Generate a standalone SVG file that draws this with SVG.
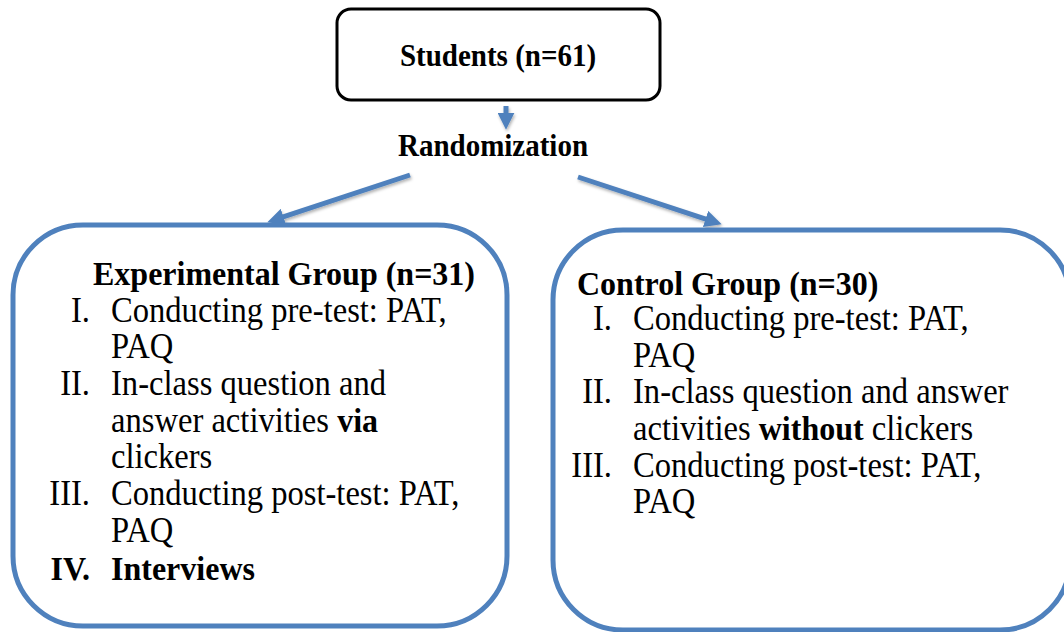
<svg xmlns="http://www.w3.org/2000/svg" width="1064" height="632" viewBox="0 0 1064 632" font-family="'Liberation Serif', serif">
<defs>
<style>
.t{font-family:'Liberation Serif',serif;font-size:32.6px;fill:#000}
.b{font-weight:bold;font-size:32px}
.e{text-anchor:end}
.m{text-anchor:middle}
.box{fill:#fff;stroke:#4F81BD;stroke-width:5}
.arr{stroke:#4F81BD;stroke-width:5;fill:none;marker-end:url(#ah)}
</style>
<marker id="ah" markerUnits="userSpaceOnUse" markerWidth="17" markerHeight="17" refX="4" refY="8" orient="auto" viewBox="0 0 16 16">
<path d="M0,0 L16,8 L0,16 z" fill="#4F81BD"/>
</marker>
<filter id="sh" x="-20%" y="-20%" width="140%" height="160%">
<feDropShadow dx="1" dy="2" stdDeviation="1.5" flood-color="#000" flood-opacity="0.3"/>
</filter>
</defs>
<g id="connectors" filter="url(#sh)">
<path class="arr" d="M506,106 L506,117"/>
<path class="arr" d="M410,175 L279.4,218.2"/>
<path class="arr" d="M578,177 L709.6,220.3"/>
</g>
<g id="students">
<rect x="337" y="9" width="323" height="91" rx="14" fill="#fff" stroke="#000" stroke-width="3"/>
<text class="t b m" style="font-size:29px" transform="translate(498,66) scale(1,1.08)">Students (n=61)</text>
</g>
<g id="randomization">
<text class="t b m" style="font-size:29px" transform="translate(493,156) scale(1,1.08)">Randomization</text>
</g>
<g id="experimental">
<rect class="box" x="13" y="225" width="494" height="401" rx="70"/>
<text class="t b" transform="translate(93,285) scale(1,1.08)">Experimental Group (n=31)</text>
<text class="t e" transform="translate(90,322) scale(1,1.08)">I.</text>
<text class="t" transform="translate(111,322) scale(1,1.08)">Conducting pre-test: PAT,</text>
<text class="t" transform="translate(111,358) scale(1,1.08)">PAQ</text>
<text class="t e" transform="translate(90,395) scale(1,1.08)">II.</text>
<text class="t" transform="translate(111,395) scale(1,1.08)">In-class question and</text>
<text class="t" transform="translate(111,432) scale(1,1.08)">answer activities <tspan class="b">via</tspan></text>
<text class="t" transform="translate(111,468) scale(1,1.08)">clickers</text>
<text class="t e" transform="translate(90,505) scale(1,1.08)">III.</text>
<text class="t" transform="translate(111,505) scale(1,1.08)">Conducting post-test: PAT,</text>
<text class="t" transform="translate(111,542) scale(1,1.08)">PAQ</text>
<text class="t b e" transform="translate(90,580) scale(1,1.08)">IV.</text>
<text class="t b" transform="translate(111,580) scale(1,1.08)">Interviews</text>
</g>
<g id="control">
<rect class="box" x="553" y="230" width="517" height="400" rx="70"/>
<text class="t b" transform="translate(577,295) scale(1,1.08)">Control Group (n=30)</text>
<text class="t e" transform="translate(612,330) scale(1,1.08)">I.</text>
<text class="t" transform="translate(633,330) scale(1,1.08)">Conducting pre-test: PAT,</text>
<text class="t" transform="translate(633,367) scale(1,1.08)">PAQ</text>
<text class="t e" transform="translate(612,403) scale(1,1.08)">II.</text>
<text class="t" transform="translate(633,403) scale(1,1.08)">In-class question and answer</text>
<text class="t" transform="translate(633,440) scale(1,1.08)">activities <tspan class="b">without</tspan> clickers</text>
<text class="t e" transform="translate(612,477) scale(1,1.08)">III.</text>
<text class="t" transform="translate(633,477) scale(1,1.08)">Conducting post-test: PAT,</text>
<text class="t" transform="translate(633,513) scale(1,1.08)">PAQ</text>
</g>
</svg>
